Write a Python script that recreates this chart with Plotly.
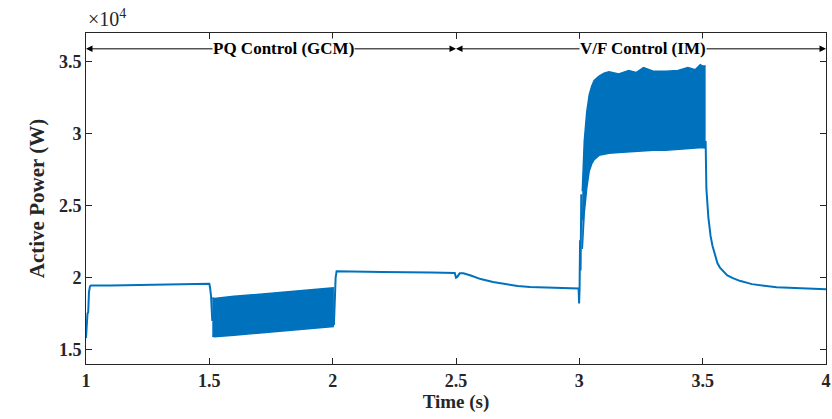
import plotly.graph_objects as go

# ---- data (power in W) ----
t_pre = [1.000, 1.003, 1.006, 1.009, 1.012, 1.016, 1.02, 1.1, 1.2, 1.3, 1.4, 1.5, 1.503, 1.507, 1.512]
p_pre = [15800, 17300, 17500, 17600, 19000, 19400, 19450, 19460, 19480, 19510, 19540, 19580, 19300, 18700, 17000]

t_osc1 = [1.512, 1.52, 1.6, 1.7, 1.8, 1.9, 2.0, 2.005]
p_osc1_hi = [18600, 18550, 18700, 18850, 19000, 19150, 19300, 19300]
p_osc1_lo = [15950, 15900, 16000, 16150, 16300, 16450, 16600, 16600]

t_mid = [2.005, 2.008, 2.012, 2.016, 2.03, 2.2, 2.4, 2.495, 2.5, 2.505, 2.515, 2.53, 2.56, 2.6,
         2.65, 2.7, 2.75, 2.8, 2.9, 2.997, 2.999, 3.001, 3.003, 3.005, 3.008, 3.012]
p_mid = [16700, 18500, 20000, 20450, 20450, 20400, 20350, 20320, 20000, 20050, 20300, 20300, 20150, 19900,
         19700, 19550, 19420, 19350, 19280, 19240, 18200, 19200, 22600, 20500, 25800, 24000]

t_osc2 = [3.012, 3.02, 3.03, 3.04, 3.05, 3.06, 3.08, 3.1, 3.12, 3.16, 3.2, 3.23, 3.26, 3.3, 3.35,
          3.4, 3.44, 3.47, 3.49, 3.5, 3.512]
p_osc2_hi = [26000, 29500, 31500, 32700, 33300, 33700, 34000, 34200, 34300, 34150, 34400, 34250, 34600,
             34350, 34350, 34400, 34600, 34450, 34800, 34700, 34700]
p_osc2_lo = [22000, 24500, 26200, 27400, 27900, 28200, 28500, 28600, 28650, 28700, 28750, 28800, 28800,
             28850, 28850, 28900, 28950, 28980, 29000, 29050, 29000]

t_post = [3.512, 3.515, 3.523, 3.532, 3.54, 3.55, 3.56, 3.57, 3.585, 3.6, 3.625, 3.65, 3.7, 3.75, 3.8, 3.9, 4.0]
p_post = [29500, 26200, 24200, 22900, 22200, 21500, 21000, 20700, 20400, 20150, 19950, 19780, 19550, 19420, 19330, 19260, 19200]

x_ticks = [1, 1.5, 2, 2.5, 3, 3.5, 4]
x_ticklabels = ["1", "1.5", "2", "2.5", "3", "3.5", "4"]
y_ticks = [15000, 20000, 25000, 30000, 35000]
y_ticklabels = ["1.5", "2", "2.5", "3", "3.5"]

BLUE = "#0072BD"
FONT = "Liberation Serif"
DARK = "#262626"

fig = go.Figure()
line = dict(color=BLUE, width=2)
fig.add_trace(go.Scatter(x=t_pre, y=p_pre, mode="lines", line=line, showlegend=False))
fig.add_trace(go.Scatter(x=t_osc1, y=p_osc1_lo, mode="lines", line=dict(color=BLUE, width=1.5), showlegend=False))
fig.add_trace(go.Scatter(x=t_osc1, y=p_osc1_hi, mode="lines", line=dict(color=BLUE, width=1.5),
                         fill="tonexty", fillcolor=BLUE, showlegend=False))
fig.add_trace(go.Scatter(x=t_mid, y=p_mid, mode="lines", line=line, showlegend=False))
fig.add_trace(go.Scatter(x=t_osc2, y=p_osc2_lo, mode="lines", line=dict(color=BLUE, width=1.5), showlegend=False))
fig.add_trace(go.Scatter(x=t_osc2, y=p_osc2_hi, mode="lines", line=dict(color=BLUE, width=1.5),
                         fill="tonexty", fillcolor=BLUE, showlegend=False))
fig.add_trace(go.Scatter(x=t_post, y=p_post, mode="lines", line=line, showlegend=False))

axis_common = dict(showgrid=False, zeroline=False, showline=True, linecolor=DARK, linewidth=1,
                   mirror="ticks", ticks="inside", ticklen=6, tickcolor=DARK, automargin=False,
                   tickfont=dict(family=FONT, size=18, color=DARK, weight="bold"))

fig.update_xaxes(range=[1, 4], tickvals=x_ticks, ticktext=x_ticklabels,
                 title=dict(text="Time (s)", font=dict(family=FONT, size=19, color=DARK, weight="bold"), standoff=2),
                 **axis_common)
fig.update_yaxes(range=[14000, 37000], tickvals=y_ticks, ticktext=y_ticklabels,
                 title=dict(text="Active Power (W)", font=dict(family=FONT, size=21, color=DARK, weight="bold"), standoff=8),
                 **axis_common)

y_arrow = 35900
arrows = [(1.8, 1.0), (1.8, 2.5), (3.26, 2.5), (3.26, 4.0)]
for x0, x1 in arrows:
    fig.add_annotation(x=x1, y=y_arrow, ax=x0, ay=y_arrow, xref="x", yref="y", axref="x", ayref="y",
                       text="", showarrow=True, arrowhead=2, arrowsize=1.3, arrowwidth=1, arrowcolor="#000000",
                       standoff=0, startstandoff=0)
fig.add_annotation(x=1.8, y=y_arrow, xref="x", yref="y", text="PQ Control (GCM)", showarrow=False,
                   bgcolor="white", borderpad=0, font=dict(family=FONT, size=17, color="#000000", weight="bold"))
fig.add_annotation(x=3.26, y=y_arrow, xref="x", yref="y", text="V/F Control (IM)", showarrow=False,
                   bgcolor="white", borderpad=0, font=dict(family=FONT, size=17, color="#000000", weight="bold"))
fig.add_annotation(x=0, y=1, xref="paper", yref="paper", xanchor="left", yanchor="bottom", yshift=1,
                   text="×10<sup>4</sup>", showarrow=False, font=dict(family=FONT, size=20, color=DARK))

fig.update_layout(width=832, height=419, margin=dict(l=86, r=6, t=33, b=55),
                  paper_bgcolor="white", plot_bgcolor="white")

fig.write_html("out.html")
